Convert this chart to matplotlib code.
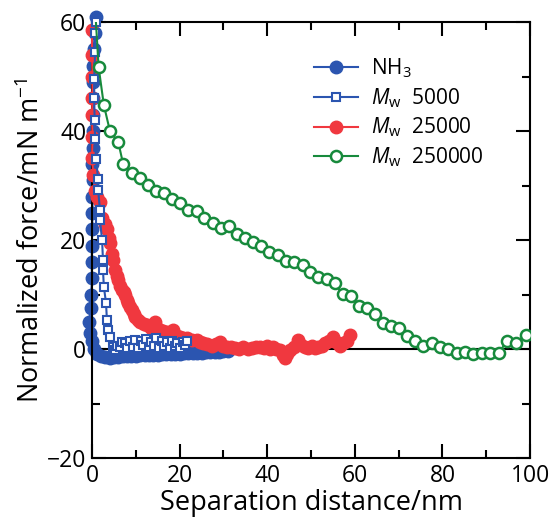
import matplotlib
matplotlib.use("Agg")
import matplotlib.pyplot as plt
from matplotlib.ticker import MultipleLocator

plt.rcParams['font.family'] = ['Open Sans', 'DejaVu Sans']
plt.rcParams['mathtext.fontset'] = 'custom'
plt.rcParams['mathtext.rm'] = 'Open Sans'
plt.rcParams['mathtext.it'] = 'Open Sans:italic'

# NH3 (filled blue circles)
nh3_x = [1.0, 0.6, 0.4, 0.3, 0.3, 0.2, 0.3, 0.2, 0.2, 0.1, 0.2, 0.1, 0.1, 0.0, 0.0,
         -0.1, 0.0, -0.2, -0.3, -0.7, -0.5, 0.0, 0.5, 1.2, 2.0, 3.0, 4.0, 5.0, 6.0,
         7.0, 8.0, 9.0, 10.0, 11.0, 12.0, 13.0, 14.0, 15.0, 16.0, 17.0, 18.0, 19.0,
         20.0, 21.0, 22.0, 23.0, 24.0, 25.0, 26.0, 27.0, 28.0, 29.0, 30.0, 31.0]
nh3_y = [61.0, 58.0, 55.0, 52.0, 49.0, 46.0, 43.0, 40.0, 37.0, 34.0, 31.0, 28.0, 25.0,
         22.0, 19.0, 16.0, 13.0, 10.0, 7.5, 5.0, 3.0, 1.5, 0.0, -0.8, -1.2, -1.4, -1.5,
         -1.4, -1.4, -1.3, -1.3, -1.2, -1.2, -1.1, -1.1, -1.0, -1.0, -1.0, -0.9, -0.9,
         -0.8, -0.8, -0.8, -0.7, -0.7, -0.7, -0.6, -0.6, -0.5, -0.5, -0.4, -0.4, -0.3, -0.3]

# Mw 5000 (open blue squares)
m5k_x = [1.0, 0.7, 0.7, 0.5, 0.5, 0.6, 0.7, 0.9, 1.4, 1.4, 1.8, 1.8, 2.3, 2.5, 2.5,
         2.7, 3.2, 3.4, 3.7, 4.1, 4.8, 5.3, 5.8, 6.4, 6.9, 7.5, 8.1, 8.7, 9.3, 9.9,
         10.5, 11.1, 11.7, 12.3, 12.9, 13.5, 14.1, 14.7, 15.3, 15.9, 16.5, 17.1, 17.7,
         18.3, 18.9, 19.5, 20.1, 20.7, 21.3, 21.7]
m5k_y = [60.0, 58.0, 54.6, 49.6, 46.0, 42.0, 38.6, 34.9, 31.2, 29.3, 25.6, 23.8, 20.0,
         16.4, 14.6, 11.5, 8.5, 5.4, 3.5, 2.2, 0.4, -0.2, 0.6, 0.4, 1.4, 1.1, 0.2, 1.6,
         0.5, 1.8, 0.3, 1.5, 0.8, 1.9, 0.4, 1.4, 0.6, 2.0, 0.3, 1.6, 0.7, 1.3, 0.2, 1.5,
         0.6, 1.2, 0.3, 1.4, 0.8, 1.6]

# Mw 25000 (filled red circles)
m25k_x = [0.0, 0.0, 0.1, 0.1, 0.0, 0.1, 0.0, 0.3, 0.7, 1.2, 1.8, 2.3, 2.9, 3.4, 3.8,
          4.1, 4.5, 4.8, 5.3, 5.7, 6.0, 6.5, 6.8, 7.2, 7.5, 7.9, 8.2, 8.7, 9.1, 9.5,
          9.8, 10.4, 11.0, 11.8, 12.6, 13.5, 14.4, 15.0, 15.5, 16.3, 17.1, 17.8, 18.5,
          19.3, 20.0, 20.8, 21.7, 22.8, 24.0, 24.7, 25.3, 26.3, 27.4, 28.3, 29.2, 30.0,
          30.8, 31.7, 32.6, 33.5, 34.5, 35.5, 36.5, 37.5, 38.4, 39.2, 40.0, 40.7, 41.3,
          42.1, 42.9, 43.5, 44.0, 44.6, 45.2, 46.1, 47.0, 47.8, 48.6, 49.4, 50.2, 50.9,
          51.6, 52.4, 53.2, 54.1, 55.0, 55.8, 56.6, 57.3, 58.2, 58.9]
m25k_y = [58.5, 54.0, 50.0, 46.0, 43.0, 39.0, 35.0, 32.0, 29.0, 28.0, 27.0, 24.0, 23.0,
          22.0, 20.5, 19.5, 17.5, 16.4, 14.5, 13.5, 12.7, 11.6, 10.9, 10.5, 10.0, 9.0,
          8.5, 7.7, 7.2, 6.4, 5.9, 5.4, 5.0, 4.7, 4.4, 4.0, 5.0, 3.8, 3.5, 3.3, 3.1, 2.7,
          3.6, 2.5, 2.2, 2.1, 2.0, 1.8, 1.7, 1.3, 1.1, 0.9, 0.7, 1.0, 1.3, 0.6, 0.4, 0.5,
          0.2, 0.1, 0.4, 0.0, 0.2, 0.5, 0.4, 0.2, 0.6, 0.1, 0.4, 0.1, -0.2, -1.0, -1.5,
          -0.8, -0.2, 0.5, 1.7, 0.8, 0.4, 0.3, 0.7, 0.2, 0.4, 0.6, 1.1, 1.5, 2.2, 1.3,
          0.7, 1.1, 1.6, 2.6]

# Mw 250000 (open green circles)
m250k_x = [0.6, 1.5, 2.7, 4.1, 6.0, 7.1, 9.1, 11.0, 12.8, 14.6, 16.4, 18.3, 20.1, 21.9,
           23.9, 25.6, 27.6, 29.5, 31.3, 33.1, 34.9, 36.8, 38.6, 40.4, 42.4, 44.3, 46.1,
           48.2, 49.8, 51.6, 53.7, 55.4, 57.2, 59.1, 61.0, 62.8, 64.6, 66.4, 68.2, 70.1,
           71.9, 73.7, 75.6, 77.6, 79.5, 81.3, 83.3, 85.2, 87.0, 89.0, 90.9, 92.9, 94.7,
           96.8, 99.1]
m250k_y = [64.0, 51.8, 44.8, 40.0, 38.0, 34.0, 32.4, 31.4, 30.1, 29.0, 28.6, 27.5, 26.8,
           25.6, 25.3, 24.0, 23.1, 22.3, 22.7, 21.2, 20.5, 19.7, 19.0, 17.9, 17.3, 16.2,
           16.0, 15.4, 14.1, 13.2, 12.9, 12.2, 10.1, 9.7, 7.9, 7.6, 6.5, 4.8, 4.2, 3.9,
           2.4, 1.5, 0.6, 1.1, 0.4, 0.0, -0.6, -0.4, -0.9, -0.7, -0.7, -0.6, 1.5, 1.1, 2.6]

blue = '#2b55b0'
red = '#f0383f'
green = '#178a3c'

fig = plt.figure(figsize=(5.51, 5.27), dpi=100)
ax = fig.add_axes([0.167, 0.13, 0.795, 0.828])

ax.axhline(0, color='black', lw=1.5, zorder=1)

ax.plot(nh3_x, nh3_y, '-o', color=blue, ms=9, lw=1.5, label='NH$_3$', clip_on=False, zorder=2)
ax.plot(m25k_x, m25k_y, '-o', color=red, ms=9, lw=1.5, label=r'$\mathit{M}_{\mathrm{w}}$  25000',
        clip_on=False, zorder=3)
ax.plot(m5k_x, m5k_y, '-s', color=blue, ms=5.5, mfc='white', mew=1.5, lw=1.5,
        label=r'$\mathit{M}_{\mathrm{w}}$  5000', clip_on=False, zorder=4)
ax.plot(m250k_x, m250k_y, '-o', color=green, ms=8, mfc='white', mew=1.8, lw=1.5,
        label=r'$\mathit{M}_{\mathrm{w}}$  250000', zorder=5)

ax.set_xlim(0, 100)
ax.set_ylim(-20, 60)
ax.xaxis.set_major_locator(MultipleLocator(20))
ax.xaxis.set_minor_locator(MultipleLocator(10))
ax.yaxis.set_major_locator(MultipleLocator(20))
ax.yaxis.set_minor_locator(MultipleLocator(10))
ax.tick_params(which='both', direction='in', top=True, right=True, width=1.5, labelsize=16.5)
ax.tick_params(which='major', length=10, pad=4)
ax.tick_params(which='minor', length=6)
for s in ax.spines.values():
    s.set_linewidth(1.5)

ax.set_xlabel('Separation distance/nm', fontsize=19.5, labelpad=1)
ax.set_ylabel('Normalized force/mN m$^{-1}$', fontsize=19.5, labelpad=1)

h, l = ax.get_legend_handles_labels()
order = [0, 2, 1, 3]
ax.legend([h[i] for i in order], [l[i] for i in order], loc='upper left',
          bbox_to_anchor=(0.465, 0.965), frameon=False, fontsize=15,
          handlelength=2.1, handletextpad=0.6, labelspacing=0.3)

fig.savefig('out.png', dpi=100)
